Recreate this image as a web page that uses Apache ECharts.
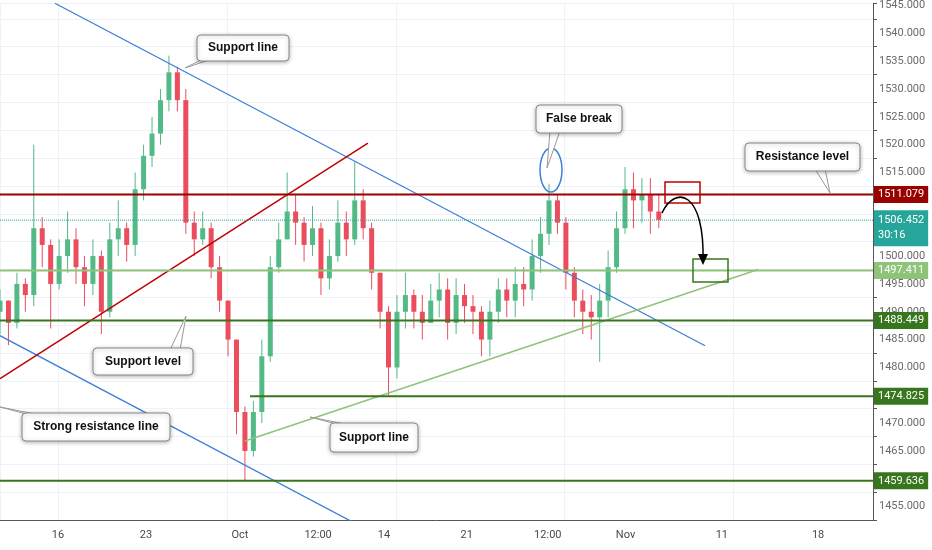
<!DOCTYPE html>
<html><head><meta charset="utf-8">
<script src="https://cdn.jsdelivr.net/npm/echarts@6/dist/echarts.min.js"></script>
<style>html,body{margin:0;padding:0;background:#fff}#c{width:932px;height:550px}</style>
</head><body><div id="c"></div>
<script>
// half-day candles, first one at day index -3.43 (Sep 16 = 0)
const startIdx = -3.43;
const step = 0.5;
const closes = [1492,1488,1495,1493,1505,1502,1495,1500,1503,1498,
1495,1500,1490,1503,1505,1502,1512,1518,1522,1528,
1533,1528,1506,1503,1505,1498,1492,1485,1472,1465,
1472,1482,1498,1503,1508,1506,1502,1505,1496,1500,
1506,1503,1510,1505,1497,1490,1480,1490,1493,1490,
1488,1492,1494,1488,1493,1491,1490,1485,1490,1494,
1492,1495,1494,1500,1504,1510,1506,1497,1492,1490,
1489,1492,1498,1505,1512,1510,1511,1508,1506.5];
const highs = [1494,1491,1497,1496,1520,1507,1503,1503,1508,1505,
1500,1503,1501,1506,1510,1506,1515,1520,1525,1530,
1536,1534,1530,1508,1508,1506,1500,1492,1485,1473,
1474,1485,1500,1506,1515,1511,1507,1509,1506,1503,
1510,1508,1517,1512,1506,1497,1491,1493,1497,1494,
1493,1495,1497,1496,1496,1495,1493,1491,1492,1496,
1496,1498,1498,1503,1507,1513,1511,1507,1498,1494,
1493,1495,1501,1508,1516,1515,1514,1514,1511];
const lows = [1486,1484,1487,1490,1491,1498,1487,1494,1497,1495,
1491,1493,1486,1489,1500,1499,1500,1510,1516,1520,
1526,1526,1504,1500,1502,1496,1490,1482,1468,1459.6,
1464,1470,1481,1497,1503,1502,1499,1500,1493,1494,
1499,1500,1502,1503,1494,1487,1474.8,1478,1487,1487,
1485,1488,1489,1485,1486,1488,1486,1482,1482,1488,
1489,1489,1491,1492,1497,1502,1504,1494,1489,1486,
1485,1481,1489,1497,1504,1505,1506,1504,1505];
const firstOpen = 1490;
const tickPos = [0,5.21,10.77,15.4,19.3,24.2,29.0,33.6,39.3,45];
const tickLabels = ['16','23','Oct','12:00','14','21','12:00','Nov','11','18'];
const levels = [
  {v:1511.079, c:'#990000', start:-3.43},
  {v:1497.411, c:'#8fc37a', start:-3.43},
  {v:1488.449, c:'#38761d', start:-3.43},
  {v:1474.825, c:'#38761d', start:11.37},
  {v:1459.636, c:'#38761d', start:-3.43}
];
const lastPrice = 1506.452;
const blueLine1 = [[-0.18,1545.4],[38.31,1483.9]];
const blueLine2 = [[-3.43,1485.7],[17.4,1452.3]];
const redLine = [[-3.43,1478.0],[18.35,1520.3]];
const greenTrend = [[11.07,1466.8],[41.45,1497.6]];

const candles = closes.map((c,i)=>{
  const o = i===0?firstOpen:closes[i-1];
  return [startIdx+i*step, o, c, Math.min(lows[i],o,c), Math.max(highs[i],o,c)];
});
const XMIN=-3.43, XMAX=48.25;
const chart = echarts.init(document.getElementById('c'));
const series = [{
  type:'custom', data:candles, z:5,
  renderItem:(p,api)=>{
    const x=api.value(0),o=api.value(1),c=api.value(2),l=api.value(3),h=api.value(4);
    const po=api.coord([x,o]),pc=api.coord([x,c]),pl=api.coord([x,l]),ph=api.coord([x,h]);
    const col = c>=o?'#53b987':'#eb4d5c';
    const w=5;
    return {type:'group',children:[
      {type:'line',shape:{x1:po[0],y1:ph[1],x2:po[0],y2:pl[1]},style:{stroke:col,lineWidth:1}},
      {type:'rect',shape:{x:po[0]-w/2,y:Math.min(po[1],pc[1]),width:w,height:Math.max(1,Math.abs(po[1]-pc[1]))},style:{fill:col}}
    ]};
  }
}];
const lineS=(d,c,w)=>({type:'line',data:d,symbol:'none',lineStyle:{color:c,width:w},z:6,silent:true});
series.push(lineS(blueLine1,'#3d7fd9',1.3),lineS(blueLine2,'#3d7fd9',1.3),lineS(redLine,'#c00000',1.5),lineS(greenTrend,'#8fc37a',1.5));
const tag={color:'#fff',padding:[3,4],fontSize:11,fontFamily:'Roboto',distance:1,offset:[0,0]};
levels.forEach(L=>{
  series.push({type:'line',data:[[L.start,L.v],[XMAX,L.v]],symbol:'none',lineStyle:{color:L.c,width:2},z:6,
    endLabel:Object.assign({show:true,formatter:L.v.toFixed(3),backgroundColor:L.c},tag)});
});
series.push({type:'line',data:[[XMIN,lastPrice],[XMAX,lastPrice]],symbol:'none',lineStyle:{color:'#26a69a',width:1,type:'dotted'},z:6,
  endLabel:Object.assign({show:true,formatter:lastPrice.toFixed(3)+'\n30:16',backgroundColor:'#26a69a',lineHeight:15},tag,{offset:[0,8]})});

function box(x,y,w,h,text,px,py,ax,ay){
  return [
    {type:'polygon',shape:{points:[[ax,ay],[px,py],[ax+10,ay]]},style:{fill:'#fff',stroke:'#999'},z:20},
    {type:'rect',shape:{x,y,width:w,height:h,r:4},style:{fill:'#fff',stroke:'#888',lineWidth:1,shadowBlur:4,shadowColor:'rgba(0,0,0,0.3)',shadowOffsetY:1},z:21},
    {type:'text',x:x+w/2,y:y+h/2,style:{text,fill:'#111',font:'bold 12px "Liberation Sans", Arial',align:'center',verticalAlign:'middle'},z:22}
  ];
}
const g=[];
g.push(...box(197,35,92,26,'Support line',185,68,205,58));
g.push(...box(536,105,86,28,'False break',547,168,550,131));
g.push(...box(745,143,115,28,'Resistance level',830,193,815,169));
g.push(...box(93,348,100,27,'Support level',186,316,170,350));
g.push(...box(22,413,148,28,'Strong resistance line',0,407,30,415));
g.push(...box(330,423,88,29,'Support line',310,417,340,425));
g.push({type:'ellipse',shape:{cx:551,cy:170,rx:11,ry:22},style:{fill:'none',stroke:'#3d7fd9',lineWidth:1.5},z:15});
g.push({type:'rect',shape:{x:665,y:182,width:35,height:21},style:{fill:'none',stroke:'#c00000',lineWidth:1.5},z:15});
g.push({type:'rect',shape:{x:693,y:259,width:35,height:23},style:{fill:'none',stroke:'#38761d',lineWidth:1.5},z:15});
g.push({type:'bezierCurve',shape:{x1:662,y1:213,cpx1:675,cpy1:185,cpx2:705,cpy2:190,x2:703,y2:262},style:{stroke:'#000',lineWidth:1.5,fill:'none'},z:15});
g.push({type:'polygon',shape:{points:[[698,254],[708,254],[703,265]]},style:{fill:'#000'},z:15});

chart.setOption({
  animation:false,
  grid:{left:0,right:59,top:0,bottom:30},
  xAxis:{type:'value',min:XMIN,max:XMAX,
    axisLine:{onZero:false,lineStyle:{color:'#555'}},axisTick:{show:false},
    axisLabel:{customValues:tickPos,formatter:v=>{const i=tickPos.indexOf(v);return i>=0?tickLabels[i]:'';},color:'#4a4a4a',fontSize:11,fontFamily:'Roboto',margin:10},
    splitLine:{show:true,lineStyle:{color:'#eef1f6'}},
  },
  yAxis:{type:'value',position:'right',min:1452.6,max:1545.4,interval:5,
    axisLine:{show:true,onZero:false,lineStyle:{color:'#555'}},axisTick:{show:true,lineStyle:{color:'#555'},length:4},
    axisLabel:{customValues:[1455,1460,1465,1470,1475,1480,1485,1490,1495,1500,1505,1510,1515,1520,1525,1530,1535,1540,1545],formatter:v=>v.toFixed(3),color:'#6a6a6a',fontSize:11,fontFamily:'Roboto',margin:6},
    splitLine:{lineStyle:{color:'#eef1f6'}}},
  series, graphic:g
});
</script></body></html>
